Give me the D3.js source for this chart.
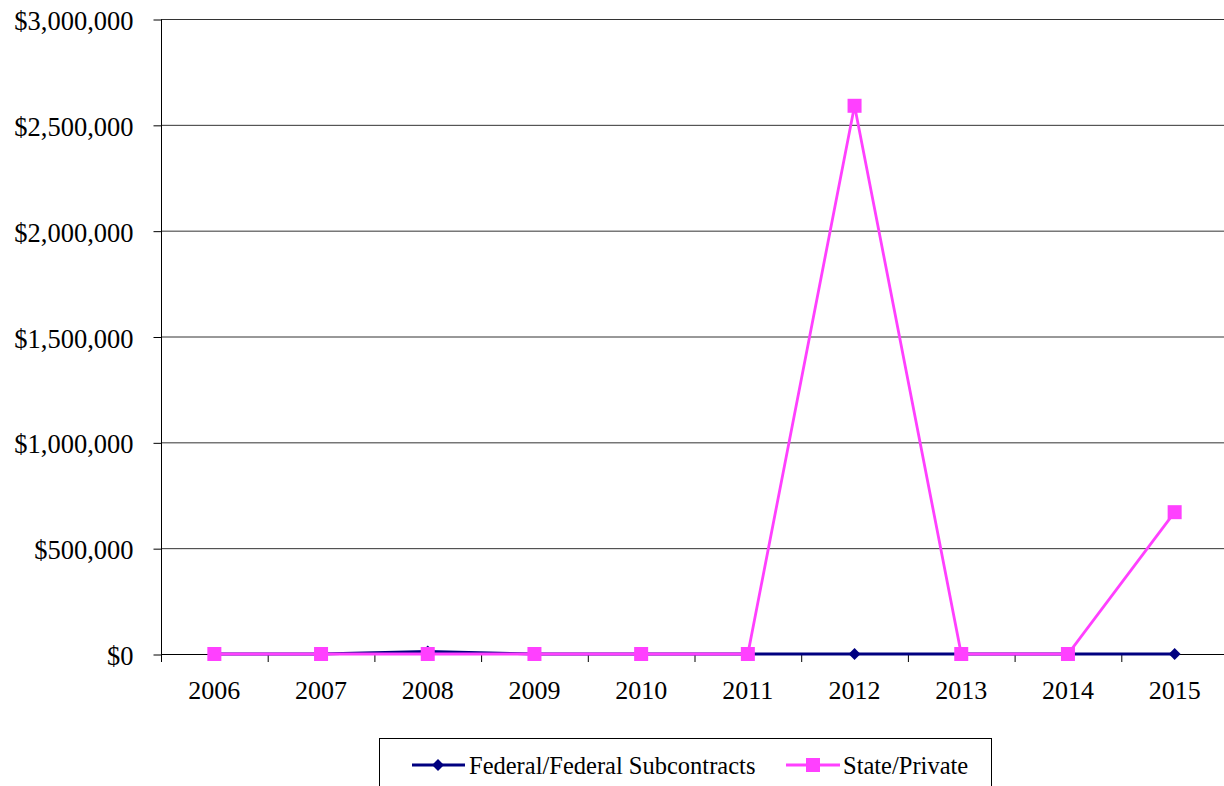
<!DOCTYPE html>
<html><head><meta charset="utf-8">
<script src="https://cdn.jsdelivr.net/npm/d3@7"></script>
<style>body{margin:0;background:#fff}svg{display:block}
svg text{font-family:"Liberation Serif","Times New Roman",Tinos,"DejaVu Serif",serif;fill:#000}</style>
</head><body>
<svg id="c" width="1224" height="786"></svg>
<script>
const years = ["2006","2007","2008","2009","2010","2011","2012","2013","2014","2015"];
const federal = [0,0,12000,0,0,0,0,0,0,0];
const statePrivate = [0,0,0,0,0,0,2590000,0,0,670000];
const yTicks = [0,500000,1000000,1500000,2000000,2500000,3000000];
const seriesNames = ["Federal/Federal Subcontracts","State/Private"];

(function(){
const svg = d3.select("#c");
const pLeft = 161, pRight = 1228, pTop = 19, pBottom = 654;
const x = d3.scaleBand().domain(years).range([pLeft,pRight]);
const y = d3.scaleLinear().domain([0,3000000]).range([pBottom,pTop]);
const fmt = v => "$" + d3.format(",")(v);
const pink = "#FF40FF", navy = "#000080";

// gridlines
svg.append("g").selectAll("line").data(yTicks.filter(d=>d>0)).join("line")
  .attr("x1",pLeft).attr("x2",1224).attr("y1",d=>y(d)+0.5).attr("y2",d=>y(d)+0.5)
  .attr("stroke","#333").attr("stroke-width",1);

// y axis
const ya = svg.append("g").attr("transform",`translate(${pLeft+0.5},0.5)`)
  .call(d3.axisLeft(y).tickValues(yTicks).tickFormat(fmt).tickSize(8).tickPadding(20));
ya.attr("font-family",null).attr("font-size",null);
ya.select(".domain").attr("stroke","#000").attr("d",`M0,${pTop}V${pBottom}`);
ya.selectAll("line").attr("stroke","#000");
ya.selectAll("text").attr("dy","10px").style("font-size","26.5px");

// x axis
const xa = svg.append("g").attr("transform",`translate(0,${pBottom+0.5})`)
  .call(d3.axisBottom(x).tickSize(0));
xa.attr("font-family",null).attr("font-size",null);
xa.select(".domain").attr("stroke","#000").attr("d",`M${pLeft},0H1224`);
xa.selectAll("text").attr("y",44).attr("dy",0).style("font-size","26px");
svg.append("g").selectAll("line").data(years).join("line")
  .attr("x1",d=>x(d)+0.5).attr("x2",d=>x(d)+0.5).attr("y1",pBottom).attr("y2",pBottom+8)
  .attr("stroke","#000");

const cx = d => x(d) + x.bandwidth()/2;
const line = d3.line().x((d,i)=>cx(years[i])).y(d=>y(d));
const diamond = d3.symbol().type(d3.symbolDiamond2).size(90);

// federal
svg.append("path").datum(federal).attr("d",line).attr("fill","none").attr("stroke",navy).attr("stroke-width",2.8);
svg.append("g").selectAll("path").data(federal).join("path")
  .attr("d",diamond).attr("transform",(d,i)=>`translate(${cx(years[i])},${y(d)})`).attr("fill",navy);

// state/private
svg.append("path").datum(statePrivate).attr("d",line).attr("fill","none").attr("stroke",pink).attr("stroke-width",2.8);
svg.append("g").selectAll("rect").data(statePrivate).join("rect")
  .attr("x",(d,i)=>cx(years[i])-7).attr("y",d=>y(d)-7).attr("width",14).attr("height",14).attr("fill",pink);

// legend
const lg = svg.append("g");
lg.append("rect").attr("x",379.5).attr("y",738.5).attr("width",612).attr("height",60).attr("fill","#fff").attr("stroke","#000");
lg.append("line").attr("x1",412).attr("x2",465).attr("y1",765).attr("y2",765).attr("stroke",navy).attr("stroke-width",2.8);
lg.append("path").attr("d",diamond).attr("transform","translate(438,765)").attr("fill",navy);
lg.append("text").attr("x",469).attr("y",774).style("font-size","24.5px").text(seriesNames[0]);
lg.append("line").attr("x1",786).attr("x2",840).attr("y1",765).attr("y2",765).attr("stroke",pink).attr("stroke-width",2.8);
lg.append("rect").attr("x",806).attr("y",758).attr("width",14).attr("height",14).attr("fill",pink);
lg.append("text").attr("x",843).attr("y",774).style("font-size","24.5px").text(seriesNames[1]);
})();
</script>
</body></html>
